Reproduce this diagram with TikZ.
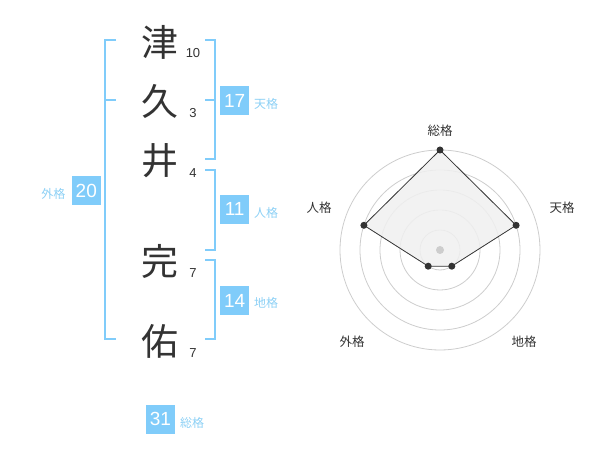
\documentclass[tikz,border=0pt]{standalone}
\usepackage{fontspec}
\setmainfont{Liberation Sans}
\newfontfamily\cjk{Noto Sans CJK JP}
\definecolor{bl}{RGB}{128,204,250}
\definecolor{bltxt}{RGB}{140,208,245}
\definecolor{ink}{RGB}{51,51,51}
\definecolor{ring}{RGB}{205,205,205}
\definecolor{polyfill}{RGB}{240,240,240}
\tikzset{
  kanji/.style={inner sep=0pt, text=ink, font=\cjk\fontsize{37}{37}\selectfont},
  strokes/.style={inner sep=0pt, text=ink, font=\fontsize{13}{13}\selectfont},
  numbox/.style={fill=bl, text=white, minimum size=29pt, inner sep=0pt, font=\fontsize{19}{19}\selectfont},
  kaku/.style={inner sep=0pt, text=bltxt, font=\cjk\fontsize{12}{12}\selectfont},
  br/.style={draw=bl, line width=2pt},
  ringline/.style={draw=ring, line width=0.8pt},
  radlab/.style={inner sep=0pt, text=ink, font=\cjk\fontsize{12.5}{12.5}\selectfont},
  vdot/.style={circle, fill=ink, inner sep=0pt, minimum size=7pt},
}
\begin{document}
\begin{tikzpicture}[x=1pt,y=-1pt]
\useasboundingbox (0,0) rectangle (600,470);
% kanji
\node[kanji] (k1) at (160,42) {津};
\node[kanji] (k2) at (160,101) {久};
\node[kanji] (k3) at (160,161) {井};
\node[kanji] (k4) at (160,261) {完};
\node[kanji] (k5) at (160,341) {佑};
% stroke counts
\node[strokes] (s1) at (193,53) {10};
\node[strokes] (s2) at (193,113) {3};
\node[strokes] (s3) at (193,173) {4};
\node[strokes] (s4) at (193,273) {7};
\node[strokes] (s5) at (193,353) {7};
% brackets
\draw[br] (116,40) -- (105,40) -- (105,339.5) -- (116,339.5);
\draw[br] (105,100) -- (116,100);
\draw[br] (205,40) -- (214.5,40) -- (214.5,159.5) -- (205,159.5);
\draw[br] (205,100) -- (214.5,100);
\draw[br] (205,170) -- (214.5,170) -- (214.5,250) -- (205,250);
\draw[br] (205,260) -- (214.5,260) -- (214.5,339.5) -- (205,339.5);
% boxes and labels
\node[numbox] (b17) at (234.7,100.5) {17};
\node[kaku, anchor=west] (l17) at (254,103.5) {天格};
\node[numbox] (b11) at (234.7,209.2) {11};
\node[kaku, anchor=west] (l11) at (254,213) {人格};
\node[numbox] (b14) at (234.7,300.5) {14};
\node[kaku, anchor=west] (l14) at (254,303) {地格};
\node[numbox] (b20) at (86.3,190.5) {20};
\node[kaku] (l20) at (53.3,194) {外格};
\node[numbox] (b31) at (160.5,419) {31};
\node[kaku, anchor=west] (l31) at (180,422.5) {総格};
% radar
\coordinate (c) at (440,250);
\foreach \r in {20,40,60,80,100} \draw[ringline] (c) circle[radius=\r];
\coordinate (p1) at (440,150);
\coordinate (p2) at (516.1,225.3);
\coordinate (p3) at (451.8,266.2);
\coordinate (p4) at (428.2,266.2);
\coordinate (p5) at (363.9,225.3);
\fill[polyfill, opacity=0.85] (p1) -- (p2) -- (p3) -- (p4) -- (p5) -- cycle;
\draw[ink, line width=0.8pt] (p1) -- (p2) -- (p3) -- (p4) -- (p5) -- cycle;
\node[circle, fill=ring, inner sep=0pt, minimum size=8pt] (cdot) at (c) {};
\foreach \p in {p1,p2,p3,p4,p5} \node[vdot] at (\p) {};
\node[radlab] (r1) at (440,131) {総格};
\node[radlab] (r2) at (562,208) {天格};
\node[radlab] (r3) at (524,342) {地格};
\node[radlab] (r4) at (352,342) {外格};
\node[radlab] (r5) at (319,208) {人格};
\end{tikzpicture}
\end{document}
